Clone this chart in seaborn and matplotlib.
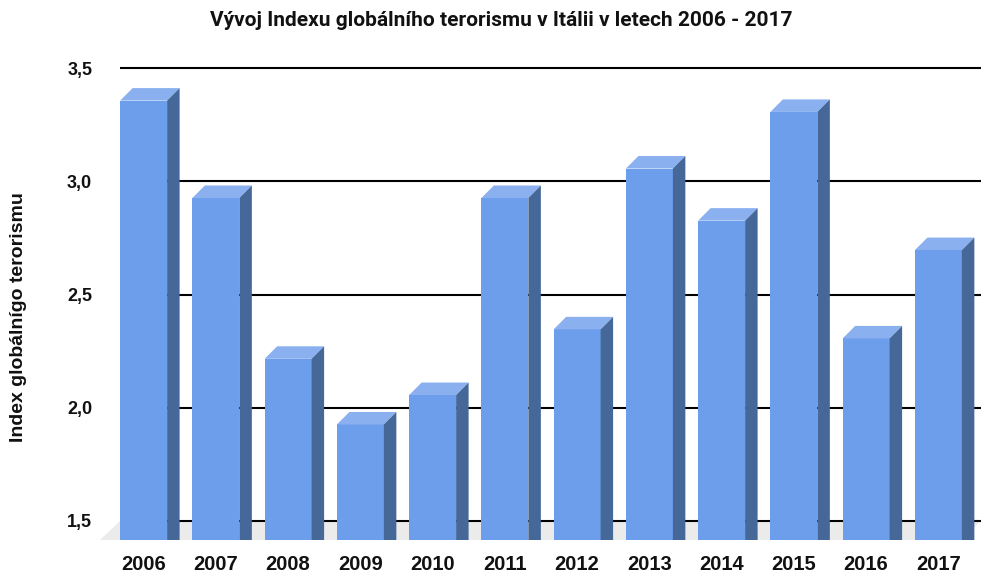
import numpy as np
import pandas as pd
import matplotlib
matplotlib.use("Agg")
import matplotlib.pyplot as plt
import matplotlib.transforms as mtransforms
from matplotlib.patches import Polygon
import seaborn as sns

# Data
roky = ["2006", "2007", "2008", "2009", "2010", "2011",
        "2012", "2013", "2014", "2015", "2016", "2017"]
hodnoty = [3.44, 3.01, 2.30, 2.01, 2.14, 3.01, 2.43, 3.14, 2.91, 3.39, 2.39, 2.78]
y_ticks = [1.5, 2.0, 2.5, 3.0, 3.5]
y_labels = ["1,5", "2,0", "2,5", "3,0", "3,5"]

df = pd.DataFrame({"rok": roky, "index": hodnoty})

# Colors
c_front = "#6d9eeb"
c_top = "#8ab0f0"
c_side = "#466898"
c_floor = "#ebebeb"

sns.set_theme(style="white")
plt.rcParams["font.family"] = ["Liberation Sans", "DejaVu Sans"]

W, H = 981, 574
fig = plt.figure(figsize=(W / 100, H / 100), dpi=100)

# axes geometry in pixels
ax_left, ax_bottom, ax_w, ax_h = 120, 34, 861, 484
px_x = 72.25   # pixels per category
px_y = 226.5   # pixels per index unit
ax = fig.add_axes([ax_left / W, ax_bottom / H, ax_w / W, ax_h / H])

sns.barplot(data=df, x="rok", y="index", color=c_front, saturation=1,
            width=0.65, ax=ax, zorder=3)

y0 = 1.5 - 19 / px_y
ax.set_ylim(y0, y0 + ax_h / px_y)
xmin, xmax = -0.5, -0.5 + ax_w / px_x
ax.set_xlim(xmin, xmax)

# 3D look: front face shifted down-left, top and side faces
shift = mtransforms.ScaledTranslation(-12.5 / 100, -19 / 100, fig.dpi_scale_trans)
tr = ax.transData + shift
ddx = 12.5 / px_x
ddy = 12.5 / px_y
for p in list(ax.patches):
    p.set_transform(tr)
    p.set_edgecolor("none")
    x, w, h = p.get_x(), p.get_width(), p.get_height()
    top = Polygon([(x, h), (x + w, h), (x + w + ddx, h + ddy), (x + ddx, h + ddy)],
                  closed=True, facecolor=c_top, edgecolor="none", transform=tr, zorder=3)
    side = Polygon([(x + w, 0), (x + w + ddx, ddy), (x + w + ddx, h + ddy), (x + w, h)],
                   closed=True, facecolor=c_side, edgecolor="none", transform=tr, zorder=3)
    ax.add_patch(top)
    ax.add_patch(side)

# floor
fdx = 20 / px_x
fdy = 19 / px_y
floor = Polygon([(xmin, 1.5), (xmax, 1.5), (xmax - fdx, 1.5 - fdy), (xmin - fdx, 1.5 - fdy)],
                closed=True, facecolor=c_floor, edgecolor="none", zorder=0.3, clip_on=False)
ax.add_patch(floor)

# grid and ticks
ax.set_axisbelow(True)
ax.set_yticks(y_ticks, labels=y_labels)
ax.yaxis.grid(True, color="black", linewidth=1.5)
ax.xaxis.grid(False)
ax.set_xticks(np.arange(len(roky)) - 12.5 / px_x, labels=roky)
ax.tick_params(axis="x", length=0, pad=11, labelsize=14.5)
ax.tick_params(axis="y", length=0, pad=20, labelsize=13)
for lab in ax.get_xticklabels() + ax.get_yticklabels():
    lab.set_fontweight("bold")
    lab.set_color("#111111")
for s in ax.spines.values():
    s.set_visible(False)
ax.set_xlabel("")
ax.set_ylabel("")

fig.text(501 / W, 1 - 21 / H, "Vývoj Indexu globálního terorismu v Itálii v letech 2006 - 2017",
         ha="center", va="center", fontsize=15, fontweight="bold", color="#111111",
         family=["Roboto", "DejaVu Sans"])
fig.text(19 / W, 1 - 317 / H, "Index globálnígo terorismu", rotation=90,
         ha="center", va="center", fontsize=14, fontweight="bold", color="#111111")

fig.savefig("out.png", dpi=100)
